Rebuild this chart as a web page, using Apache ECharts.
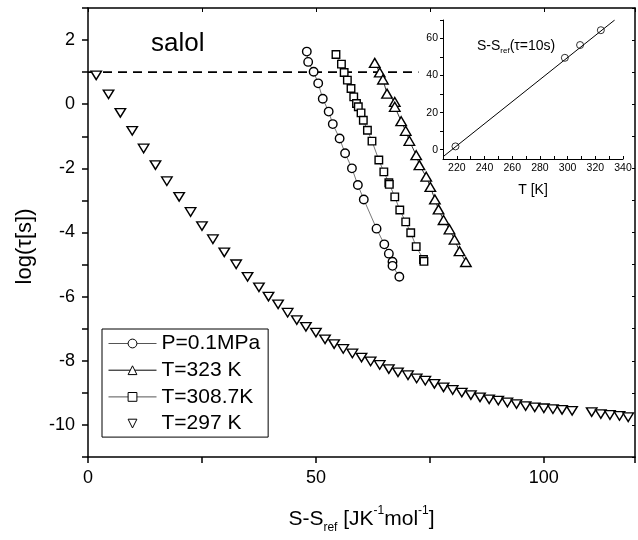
<!DOCTYPE html>
<html><head><meta charset="utf-8">
<script src="https://cdn.jsdelivr.net/npm/echarts@6/dist/echarts.min.js"></script>
<style>html,body{margin:0;padding:0;background:#fff}#c{width:638px;height:540px}</style>
</head><body><div id="c"></div>
<script>
// ---- data ----
const seriesNames = ['P=0.1MPa', 'T=323 K', 'T=308.7K', 'T=297 K'];

const circX = [48.0, 48.3, 49.5, 50.5, 51.5, 52.8, 53.7, 55.2, 56.4, 57.9, 59.2, 60.5, 63.3, 65.0, 66.0, 66.8, 66.8, 68.3];
const circY = [1.64, 1.32, 1.01, 0.65, 0.17, -0.23, -0.62, -1.07, -1.53, -2.00, -2.52, -2.97, -3.88, -4.37, -4.66, -4.91, -5.04, -5.38];

const triUpX = [62.9, 64.0, 64.7, 65.6, 67.3, 67.3, 68.7, 69.7, 70.5, 72.0, 72.7, 74.2, 75.1, 76.1, 76.9, 78.0, 79.3, 80.4, 81.5, 82.9];
const triUpY = [1.29, 0.99, 0.77, 0.33, 0.07, -0.08, -0.53, -0.83, -1.14, -1.59, -1.90, -2.26, -2.58, -2.97, -3.28, -3.61, -3.90, -4.22, -4.58, -4.92];

const squareX = [54.4, 55.6, 56.2, 56.9, 57.7, 58.3, 58.9, 59.3, 59.9, 60.4, 61.3, 62.3, 63.8, 64.9, 66.0, 66.1, 67.3, 68.4, 69.7, 70.8, 72.0, 73.6, 73.7];
const squareY = [1.55, 1.25, 0.99, 0.75, 0.49, 0.23, 0.02, -0.08, -0.27, -0.50, -0.81, -1.15, -1.74, -2.11, -2.45, -2.50, -2.89, -3.30, -3.67, -4.01, -4.44, -4.84, -4.90];

const triDownX = [1.8, 4.5, 7.1, 9.7, 12.2, 14.8, 17.3, 20.0, 22.5, 25.0, 27.4, 29.9, 32.5, 35.0,
  37.5, 39.6, 41.7, 43.8, 45.8, 47.8, 50.0, 52.0, 54.0, 56.0, 58.0, 60.0, 62.0, 64.0, 66.0, 68.0, 70.2, 72.1, 74.0,
  76.0, 78.0, 80.0, 82.0, 84.0, 86.0, 88.0, 90.0, 92.0, 94.0, 96.0, 98.0, 100.0, 102.0, 104.0, 106.2,
  110.5, 112.5, 114.5, 116.6, 118.5];
const triDownY = [0.90, 0.31, -0.27, -0.83, -1.38, -1.90, -2.40, -2.89, -3.36, -3.80, -4.21, -4.62, -4.99, -5.38,
  -5.71, -6.00, -6.24, -6.50, -6.73, -6.94, -7.12, -7.33, -7.48, -7.63, -7.77, -7.90, -8.02, -8.13, -8.26, -8.36, -8.45, -8.55, -8.62,
  -8.72, -8.83, -8.91, -8.99, -9.07, -9.14, -9.20, -9.24, -9.30, -9.35, -9.41, -9.45, -9.48, -9.51, -9.53, -9.56,
  -9.60, -9.66, -9.69, -9.72, -9.76];

// horizontal reference line log(tau)=1 (tau = 10 s)
const refLineX = [0, 72.5];
const refLineY = [1, 1];

// inset: S-S_ref at tau = 10 s vs T
const insetT = [219, 298, 309, 324];
const insetS = [1.8, 49.6, 56.5, 64.5];
const insetFitT = [210, 334];
const insetFitS = [-3.8, 70];

const xTickLabels = [0, 50, 100];
const yTickLabels = [-10, -8, -6, -4, -2, 0, 2];
const insetXLabels = [220, 240, 260, 280, 300, 320, 340];
const insetYLabels = [0, 20, 40, 60];
const insetXTicks = [210, 220, 230, 240, 250, 260, 270, 280, 290, 300, 310, 320, 330, 340];
const insetYTicks = [0, 10, 20, 30, 40, 50, 60, 70];

// ---- chart ----
const F = '"Liberation Sans", Arial, Helvetica, sans-serif';
const pairs = (xs, ys) => xs.map((x, i) => [x, ys[i]]);
const axisLineStyle = { color: '#000', width: 1.5 };
const marker = { color: '#fff', borderColor: '#000', borderWidth: 1.4 };
const lineColors = ['#555', '#000', '#555', '#000'];

const chart = echarts.init(document.getElementById('c'), null, { renderer: 'canvas' });
chart.setOption({
  animation: false,
  backgroundColor: '#fff',
  textStyle: { fontFamily: F, color: '#000' },
  grid: [
    { left: 88, top: 8, width: 549, height: 449 },
    { left: 443, top: 20, width: 180, height: 139 }
  ],
  xAxis: [
    {
      gridIndex: 0, type: 'value', min: 0, max: 120, interval: 25, position: 'bottom',
      name: '{a|S-S}{b|ref}{a| [JK}{c|-1}{a|mol}{c|-1}{a|]}',
      nameLocation: 'middle', nameGap: 47,
      nameTextStyle: {
        color: '#000', fontFamily: F, fontSize: 21,
        rich: {
          a: { fontSize: 21, fontFamily: F, color: '#000' },
          b: { fontSize: 12, fontFamily: F, color: '#000', padding: [18, 0, 0, 0] },
          c: { fontSize: 12, fontFamily: F, color: '#000', padding: [0, 0, 17, 0] }
        }
      },
      axisLine: { show: true, onZero: false, lineStyle: axisLineStyle },
      axisTick: { show: true, inside: false, length: 6, lineStyle: axisLineStyle },
      axisLabel: { formatter: v => xTickLabels.indexOf(v) >= 0 ? String(v) : '', fontSize: 18, color: '#000', fontFamily: F, margin: 12 },
      splitLine: { show: false }
    },
    {
      gridIndex: 0, type: 'value', min: 0, max: 120, interval: 25, position: 'top',
      axisLine: { show: true, onZero: false, lineStyle: axisLineStyle },
      axisTick: { show: true, inside: true, length: 4, lineStyle: { color: '#000', width: 1 } },
      axisLabel: { show: false }, splitLine: { show: false }
    },
    {
      gridIndex: 1, type: 'value', min: 210, max: 340, position: 'bottom',
      name: 'T [K]', nameLocation: 'middle', nameGap: 24,
      nameTextStyle: { fontSize: 14, color: '#000', fontFamily: F },
      axisLine: { show: true, onZero: false, lineStyle: { color: '#000', width: 1 } },
      axisTick: { show: true, inside: true, length: 3, customValues: insetXTicks, lineStyle: { color: '#000', width: 1 } },
      axisLabel: { customValues: insetXLabels, fontSize: 10.5, color: '#000', fontFamily: F, margin: 4 },
      splitLine: { show: false }
    }
  ],
  yAxis: [
    {
      gridIndex: 0, type: 'value', min: -11, max: 3, interval: 1, position: 'left',
      name: 'log(τ[s])', nameLocation: 'middle', nameGap: 52,
      nameTextStyle: { fontSize: 22, color: '#000', fontFamily: F, padding: [0, 28, 0, 0] },
      axisLine: { show: true, onZero: false, lineStyle: axisLineStyle },
      axisTick: { show: true, inside: false, length: 6, lineStyle: axisLineStyle },
      axisLabel: { formatter: v => yTickLabels.indexOf(v) >= 0 ? String(v) : '', fontSize: 18, color: '#000', fontFamily: F, margin: 13 },
      splitLine: { show: false }
    },
    {
      gridIndex: 0, type: 'value', min: -11, max: 3, interval: 1, position: 'right',
      axisLine: { show: true, onZero: false, lineStyle: axisLineStyle },
      axisTick: { show: true, inside: true, length: 3, lineStyle: { color: '#000', width: 1 } },
      axisLabel: { show: false }, splitLine: { show: false }
    },
    {
      gridIndex: 1, type: 'value', min: -5, max: 70, position: 'left',
      axisLine: { show: true, onZero: false, lineStyle: { color: '#000', width: 1 } },
      axisTick: { show: true, inside: false, length: 3, customValues: insetYTicks, lineStyle: { color: '#000', width: 1 } },
      axisLabel: { customValues: insetYLabels, fontSize: 10.5, color: '#000', fontFamily: F, margin: 5 },
      splitLine: { show: false }
    }
  ],
  legend: {
    data: seriesNames.map((n, i) => ({
      name: n,
      lineStyle: { width: i === 3 ? 0 : 1, color: lineColors[i] },
      itemStyle: { color: '#fff', borderColor: '#000', borderWidth: 1 }
    })),
    orient: 'vertical', left: 102, top: 329,
    itemWidth: 48, itemHeight: 11, itemGap: 5.7, padding: [4, 8, 3, 6],
    borderColor: '#000', borderWidth: 1, backgroundColor: '#fff',
    selectedMode: false,
    textStyle: { fontSize: 21, color: '#000', fontFamily: F, lineHeight: 21 }
  },
  graphic: [
    { type: 'text', silent: true, style: { x: 151, y: 44, text: 'salol', fontSize: 26, fontFamily: F, fill: '#000', verticalAlign: 'middle' } },
    { type: 'text', silent: true, style: {
        x: 477, y: 46, verticalAlign: 'middle', fill: '#000',
        text: '{a|S-S}{b|ref}{a|(τ=10s)}',
        rich: {
          a: { fontSize: 14, fontFamily: F, fill: '#000' },
          b: { fontSize: 8, fontFamily: F, fill: '#000', padding: [10, 0, 0, 0] }
        }
      } }
  ],
  series: [
    {
      name: 'ref', type: 'line', xAxisIndex: 0, yAxisIndex: 0, data: pairs(refLineX, refLineY),
      symbol: 'none', silent: true, lineStyle: { color: '#000', width: 1.8, type: [9, 6] }, z: 1
    },
    {
      name: seriesNames[0], type: 'line', xAxisIndex: 0, yAxisIndex: 0, data: pairs(circX, circY),
      symbol: 'circle', symbolSize: 8.5, showAllSymbol: true,
      itemStyle: marker, lineStyle: { color: lineColors[0], width: 0.8 }, z: 3
    },
    {
      name: seriesNames[1], type: 'line', xAxisIndex: 0, yAxisIndex: 0, data: pairs(triUpX, triUpY),
      symbol: 'triangle', symbolSize: [10.5, 9], showAllSymbol: true,
      itemStyle: marker, lineStyle: { color: lineColors[1], width: 0.8 }, z: 3
    },
    {
      name: seriesNames[2], type: 'line', xAxisIndex: 0, yAxisIndex: 0, data: pairs(squareX, squareY),
      symbol: 'rect', symbolSize: 7.5, showAllSymbol: true,
      itemStyle: marker, lineStyle: { color: lineColors[2], width: 0.8 }, z: 3
    },
    {
      name: seriesNames[3], type: 'line', xAxisIndex: 0, yAxisIndex: 0, data: pairs(triDownX, triDownY),
      symbol: 'triangle', symbolRotate: 180, symbolSize: [10.5, 8.5], showAllSymbol: true,
      itemStyle: marker, lineStyle: { color: lineColors[3], width: 0 }, z: 3
    },
    {
      name: 'fit', type: 'line', xAxisIndex: 2, yAxisIndex: 2, data: pairs(insetFitT, insetFitS),
      symbol: 'none', silent: true, lineStyle: { color: '#000', width: 1 }, z: 2
    },
    {
      name: 'inset', type: 'scatter', xAxisIndex: 2, yAxisIndex: 2, data: pairs(insetT, insetS),
      symbol: 'circle', symbolSize: 7, itemStyle: { color: 'rgba(255,255,255,0)', borderColor: '#000', borderWidth: 1 }, z: 3
    }
  ]
});
</script></body></html>
